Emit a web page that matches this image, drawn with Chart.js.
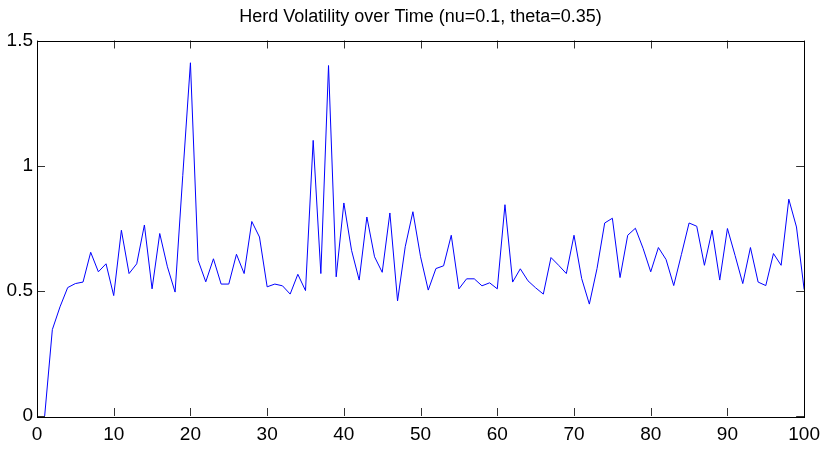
<!DOCTYPE html>
<html>
<head>
<meta charset="utf-8">
<script src="https://cdn.jsdelivr.net/npm/chart.js@4/dist/chart.umd.min.js"></script>
<style>
  html, body { margin: 0; padding: 0; background: #fff; }
  #chart { display: block; }
</style>
</head>
<body>
<canvas id="chart" width="827" height="449"></canvas>
<script>
// ---- data ----
const timeSteps = [
  1, 2, 3, 4, 5, 6, 7, 8, 9, 10,
  11, 12, 13, 14, 15, 16, 17, 18, 19, 20,
  21, 22, 23, 24, 25, 26, 27, 28, 29, 30,
  31, 32, 33, 34, 35, 36, 37, 38, 39, 40,
  41, 42, 43, 44, 45, 46, 47, 48, 49, 50,
  51, 52, 53, 54, 55, 56, 57, 58, 59, 60,
  61, 62, 63, 64, 65, 66, 67, 68, 69, 70,
  71, 72, 73, 74, 75, 76, 77, 78, 79, 80,
  81, 82, 83, 84, 85, 86, 87, 88, 89, 90,
  91, 92, 93, 94, 95, 96, 97, 98, 99, 100
];
const volatility = [
  0.000, 0.345, 0.436, 0.513, 0.529, 0.535, 0.654, 0.576, 0.608, 0.481,
  0.742, 0.569, 0.608, 0.763, 0.508, 0.729, 0.596, 0.495, 0.960, 1.411,
  0.622, 0.536, 0.628, 0.527, 0.527, 0.646, 0.569, 0.777, 0.715, 0.516,
  0.527, 0.520, 0.487, 0.566, 0.501, 1.101, 0.569, 1.400, 0.556, 0.851,
  0.662, 0.543, 0.795, 0.636, 0.574, 0.811, 0.460, 0.676, 0.816, 0.636,
  0.503, 0.589, 0.600, 0.722, 0.508, 0.548, 0.548, 0.520, 0.532, 0.508,
  0.844, 0.535, 0.588, 0.540, 0.512, 0.487, 0.633, 0.602, 0.569, 0.722,
  0.549, 0.447, 0.589, 0.771, 0.790, 0.553, 0.722, 0.750, 0.670, 0.576,
  0.673, 0.625, 0.521, 0.645, 0.771, 0.758, 0.602, 0.742, 0.543, 0.749,
  0.641, 0.529, 0.673, 0.535, 0.521, 0.649, 0.602, 0.866, 0.755, 0.505
];
const xTickStep = 10;
const yTickStep = 0.5;
const titleText = "Herd Volatility over Time (nu=0.1, theta=0.35)";

const FONT = "'Liberation Sans', Arial, Helvetica, sans-serif";

// box around the plot + ticks pointing inward on all four sides
const matlabAxes = {
  id: "matlabAxes",
  afterLayout(chart) {
    // centre the title over the plot box, not the whole canvas
    if (chart.titleBlock) {
      chart.titleBlock.left = chart.chartArea.left;
      chart.titleBlock.right = chart.chartArea.right;
    }
  },
  afterDraw(chart) {
    const { ctx, chartArea: a, scales } = chart;
    const len = 8;
    ctx.save();
    ctx.lineWidth = 1;
    ctx.strokeStyle = "#333";
    ctx.beginPath();
    scales.x.ticks.forEach(t => {
      const px = Math.round(scales.x.getPixelForValue(t.value)) + 0.5;
      ctx.moveTo(px, a.bottom); ctx.lineTo(px, a.bottom - len);
      ctx.moveTo(px, a.top); ctx.lineTo(px, a.top + len);
    });
    scales.y.ticks.forEach(t => {
      const py = Math.round(scales.y.getPixelForValue(t.value)) + 0.5;
      ctx.moveTo(a.left, py); ctx.lineTo(a.left + len, py);
      ctx.moveTo(a.right, py); ctx.lineTo(a.right - len, py);
    });
    ctx.stroke();
    ctx.strokeStyle = "#000";
    ctx.strokeRect(Math.round(a.left) + 0.5, Math.round(a.top) + 0.5,
                   Math.round(a.right - a.left), Math.round(a.bottom - a.top));
    ctx.restore();
  }
};

new Chart(document.getElementById("chart"), {
  type: "line",
  data: {
    labels: timeSteps,
    datasets: [{
      data: timeSteps.map((t, i) => ({ x: t, y: volatility[i] })),
      borderColor: "#0000ff",
      borderWidth: 1,
      pointRadius: 0,
      tension: 0,
      fill: false
    }]
  },
  options: {
    responsive: false,
    animation: false,
    devicePixelRatio: 1,
    layout: { padding: 0 },
    plugins: {
      legend: { display: false },
      tooltip: { enabled: false },
      title: {
        display: true,
        text: titleText,
        color: "#000",
        font: { family: FONT, size: 18, weight: "normal" },
        padding: { top: 6, bottom: 12.9 }
      }
    },
    scales: {
      x: {
        type: "linear",
        min: 0, max: 100,
        grid: { display: false, drawTicks: false },
        border: { display: false },
        afterFit(s) { s.height = 33; },
        ticks: {
          stepSize: xTickStep,
          color: "#000",
          padding: 7,
          maxRotation: 0,
          font: { family: FONT, size: 19 }
        }
      },
      y: {
        min: 0, max: 1.5,
        grid: { display: false, drawTicks: false },
        border: { display: false },
        afterFit(s) { s.width = 37; },
        ticks: {
          stepSize: yTickStep,
          color: "#000",
          padding: 4,
          font: { family: FONT, size: 19 },
          callback: v => String(v)
        }
      },
      yRight: {
        position: "right",
        min: 0, max: 1.5,
        grid: { display: false, drawTicks: false },
        border: { display: false },
        ticks: { display: false },
        afterFit(s) { s.width = 21.5; }
      }
    }
  },
  plugins: [matlabAxes]
});
</script>
</body>
</html>
